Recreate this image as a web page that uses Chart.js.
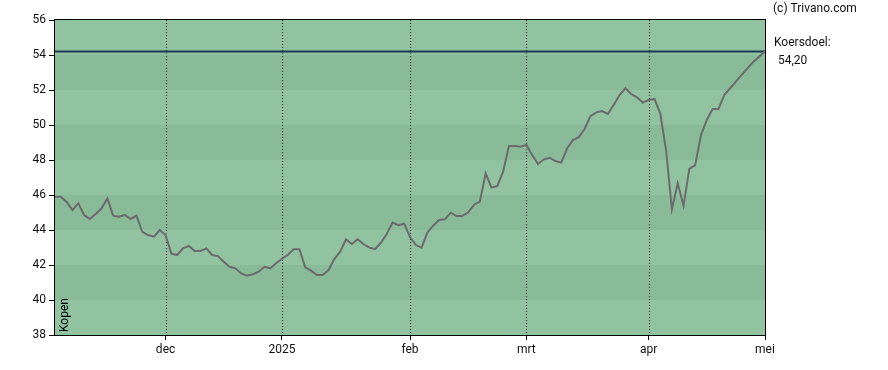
<!DOCTYPE html>
<html>
<head>
    <title>Koersverloop</title>
    <style>
        body { margin: 0; background: #fff; font-family: Roboto, sans-serif; }
        #wrap { width: 888px; height: 370px; }
    </style>
</head>
<body>
    <div id="wrap"><canvas id="koersChart" width="888" height="370"></canvas></div>

    <script src="https://cdn.jsdelivr.net/npm/chart.js"></script>
    <script>
        // slotkoersen per handelsdag (index 0 = begin grafiek)
        const prices = [
            45.9, 45.9, 45.6, 45.14, 45.53, 44.86, 44.63, 44.91, 45.24, 45.81,
            44.82, 44.76, 44.86, 44.63, 44.82, 43.9, 43.71, 43.62, 44.0, 43.7,
            42.65, 42.57, 42.95, 43.09, 42.8, 42.8, 42.95, 42.57, 42.51, 42.19,
            41.9, 41.81, 41.52, 41.39, 41.47, 41.62, 41.9, 41.81, 42.1, 42.36,
            42.57, 42.9, 42.9, 41.87, 41.68, 41.43, 41.43, 41.71, 42.34, 42.76,
            43.47, 43.2, 43.47, 43.2, 42.99, 42.91, 43.27, 43.77, 44.42, 44.27,
            44.36, 43.6, 43.14, 42.99, 43.87, 44.25, 44.57, 44.61, 44.99, 44.8,
            44.8, 45.01, 45.43, 45.62, 47.24, 46.42, 46.51, 47.33, 48.8, 48.8,
            48.76, 48.86, 48.29, 47.77, 48.04, 48.13, 47.94, 47.85, 48.67, 49.14,
            49.3, 49.77, 50.51, 50.72, 50.8, 50.63, 51.14, 51.71, 52.1, 51.77,
            51.58, 51.28, 51.43, 51.49, 50.67, 48.57, 45.18, 46.67, 45.39, 47.49,
            47.71, 49.43, 50.29, 50.91, 50.91, 51.71, 52.1, 52.48, 52.86, 53.24,
            53.62, 53.9, 54.23
        ];
        const target = 54.20;

        // maand-ticks op handelsdag-index
        const monthIdx = [19, 39, 61, 81, 102, 122];
        const monthLabels = ['dec', '2025', 'feb', 'mrt', 'apr', 'mei'];

        const yMin = 38, yMax = 56, yStep = 2;

        const lightBand = '#91c3a1';
        const darkBand = '#8abb99';

        const bandsPlugin = {
            id: 'bands',
            beforeDatasetsDraw(chart) {
                const { ctx, chartArea: a, scales: { y } } = chart;
                ctx.save();
                for (let v = yMin; v < yMax; v += yStep) {
                    const top = y.getPixelForValue(v + yStep);
                    const bot = y.getPixelForValue(v);
                    const dark = ((v - yMin) / yStep) % 2 === 1;
                    ctx.fillStyle = dark ? darkBand : lightBand;
                    ctx.fillRect(a.left, top, a.right - a.left, bot - top);
                }
                ctx.restore();
            }
        };

        const gridPlugin = {
            id: 'monthGrid',
            beforeDatasetsDraw(chart) {
                const { ctx, chartArea: a, scales: { x } } = chart;
                ctx.save();
                ctx.strokeStyle = '#000';
                ctx.lineWidth = 1;
                ctx.setLineDash([1, 2]);
                monthIdx.forEach(i => {
                    const px = Math.round(x.getPixelForValue(i)) + 0.5;
                    ctx.beginPath();
                    ctx.moveTo(px, a.top);
                    ctx.lineTo(px, a.bottom);
                    ctx.stroke();
                });
                ctx.restore();
            }
        };

        const frameAndText = {
            id: 'frameText',
            afterDraw(chart) {
                const { ctx, chartArea: a, scales: { y } } = chart;
                ctx.save();
                ctx.strokeStyle = '#000';
                ctx.lineWidth = 1;
                ctx.strokeRect(a.left - 0.5, a.top - 0.5, a.right - a.left + 1, a.bottom - a.top + 1);

                ctx.fillStyle = '#111';
                ctx.font = '12px Roboto, sans-serif';
                ctx.textBaseline = 'middle';
                ctx.textAlign = 'left';
                ctx.fillText('(c) Trivano.com', a.right + 8, 9);

                const ty = y.getPixelForValue(target);
                ctx.fillText('Koersdoel:', a.right + 9, ty - 9);
                ctx.fillText(target.toFixed(2).replace('.', ','), a.right + 13, ty + 9);

                // "Kopen" verticaal linksonder
                ctx.translate(a.left + 10, a.bottom - 3);
                ctx.rotate(-Math.PI / 2);
                ctx.textAlign = 'left';
                ctx.fillStyle = '#000';
                ctx.fillText('Kopen', 0, 0);
                ctx.restore();
            }
        };

        const ctx = document.getElementById('koersChart').getContext('2d');
        new Chart(ctx, {
            type: 'line',
            data: {
                datasets: [
                    {
                        label: 'Koers',
                        data: prices.map((p, i) => ({ x: i, y: p })),
                        borderColor: '#6b6b6b',
                        borderWidth: 2,
                        pointRadius: 0,
                        tension: 0,
                        order: 1
                    },
                    {
                        label: 'Koersdoel',
                        data: [{ x: 0, y: target }, { x: prices.length - 1, y: target }],
                        borderColor: '#173a4f',
                        borderWidth: 2,
                        pointRadius: 0,
                        order: 2
                    }
                ]
            },
            options: {
                responsive: false,
                animation: false,
                events: [],
                layout: { padding: { top: 20, right: 123, left: 0, bottom: 0 } },
                plugins: { legend: { display: false }, tooltip: { enabled: false } },
                scales: {
                    x: {
                        type: 'linear',
                        min: 0,
                        max: prices.length - 1,
                        afterBuildTicks: axis => { axis.ticks = monthIdx.map(v => ({ value: v })); },
                        afterFit: axis => { axis.height = 35; },
                        grid: { drawOnChartArea: false, color: '#000', tickLength: 5 },
                        border: { display: false },
                        ticks: {
                            autoSkip: false,
                            maxRotation: 0,
                            color: '#111',
                            font: { family: 'Roboto', size: 12 },
                            padding: 3,
                            callback: v => monthLabels[monthIdx.indexOf(v)]
                        }
                    },
                    y: {
                        min: yMin,
                        max: yMax,
                        afterFit: axis => { axis.width = 55; },
                        grid: { drawOnChartArea: false, color: '#000', tickLength: 6 },
                        border: { display: false },
                        ticks: {
                            stepSize: yStep,
                            color: '#111',
                            font: { family: 'Roboto', size: 12 },
                            padding: 3
                        }
                    }
                }
            },
            plugins: [bandsPlugin, gridPlugin, frameAndText]
        });
    </script>
</body>
</html>
